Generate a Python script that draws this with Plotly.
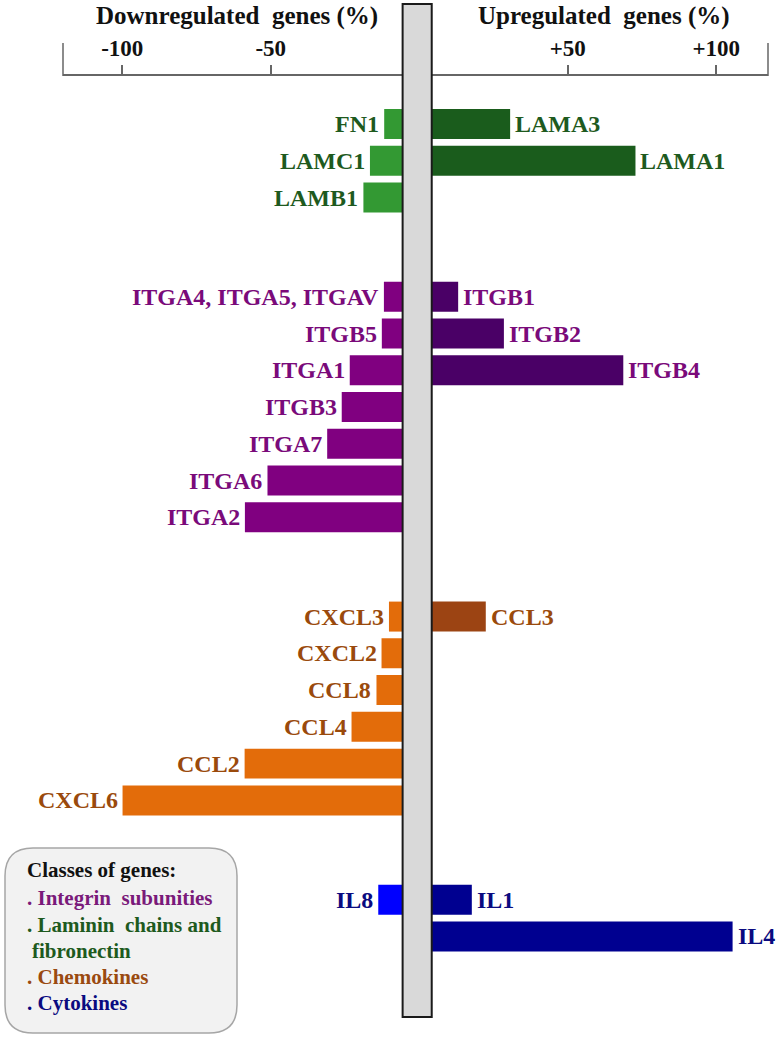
import plotly.graph_objects as go

# ---------------- data ----------------
laminin_left_genes = ["FN1", "LAMC1", "LAMB1"]
laminin_left_vals = [-11.8, -16.6, -18.8]
laminin_right_genes = ["LAMA3", "LAMA1"]
laminin_right_vals = [30.6, 72.8]

integrin_left_genes = ["ITGA4, ITGA5, ITGAV", "ITGB5", "ITGA1", "ITGB3", "ITGA7", "ITGA6", "ITGA2"]
integrin_left_vals = [-11.9, -12.6, -23.4, -26.1, -31.0, -51.1, -58.7]
integrin_right_genes = ["ITGB1", "ITGB2", "ITGB4"]
integrin_right_vals = [13.1, 28.5, 68.7]

chemokine_left_genes = ["CXCL3", "CXCL2", "CCL8", "CCL4", "CCL2", "CXCL6"]
chemokine_left_vals = [-10.2, -12.7, -14.4, -22.8, -58.8, -99.9]
chemokine_right_genes = ["CCL3"]
chemokine_right_vals = [22.4]

cytokine_left_genes = ["IL8"]
cytokine_left_vals = [-13.8]
cytokine_right_genes = ["IL1", "IL4"]
cytokine_right_vals = [17.7, 105.5]

tick_vals = [-100, -50, 50, 100]
tick_text = ["-100", "-50", "+50", "+100"]

legend_title = "Classes of genes:"
legend_items = [". Integrin  subunities", ". Laminin  chains and", "fibronectin", ". Chemokines", ". Cytokines"]

# ---------------- styles ----------------
FONT = "Liberation Serif"
groups = [
    dict(lg=laminin_left_genes, lv=laminin_left_vals, rg=laminin_right_genes, rv=laminin_right_vals,
         lc="#339933", rc="#1a5c1c", tc="#1e5a1e"),
    dict(lg=integrin_left_genes, lv=integrin_left_vals, rg=integrin_right_genes, rv=integrin_right_vals,
         lc="#800080", rc="#4a0066", tc="#7a0a7a"),
    dict(lg=chemokine_left_genes, lv=chemokine_left_vals, rg=chemokine_right_genes, rv=chemokine_right_vals,
         lc="#e36c0a", rc="#9c4413", tc="#9a4a0c"),
    dict(lg=cytokine_left_genes, lv=cytokine_left_vals, rg=cytokine_right_genes, rv=cytokine_right_vals,
         lc="#0000ff", rc="#000090", tc="#0a0a80"),
]
legend_colors = ["#7a1a7a", "#1e5a1e", "#1e5a1e", "#9a4a10", "#0a0a80"]

GROUP_STEP = 2.7
BAR_W = 0.816
W, H = 784, 1038
ML, MR, MT, MB = 63, 16, 76, 0
PW, PH = W - ML - MR, H - MT - MB
LABEL_SIZE = 24


def px2paper_x(px):
    return (px - ML) / PW


def px2paper_y(py):
    return 1 - (py - MT) / PH


fig = go.Figure()
annotations = []
start = 0.0
for g in groups:
    n = max(len(g["lg"]), len(g["rg"]))
    ly = [start + i for i in range(len(g["lg"]))]
    ry = [start + i for i in range(len(g["rg"]))]
    fig.add_trace(go.Bar(y=ly, x=g["lv"], orientation="h", width=BAR_W,
                         marker=dict(color=g["lc"], line=dict(width=0)),
                         showlegend=False, hovertext=g["lg"]))
    fig.add_trace(go.Bar(y=ry, x=g["rv"], orientation="h", width=BAR_W,
                         marker=dict(color=g["rc"], line=dict(width=0)),
                         showlegend=False, hovertext=g["rg"]))
    for name, v, y in zip(g["lg"], g["lv"], ly):
        annotations.append(dict(x=v, y=y, xref="x", yref="y", text="<b>%s</b>" % name,
                                showarrow=False, xanchor="right", yanchor="middle", xshift=-3,
                                font=dict(family=FONT, size=LABEL_SIZE, color=g["tc"])))
    for name, v, y in zip(g["rg"], g["rv"], ry):
        annotations.append(dict(x=v, y=y, xref="x", yref="y", text="<b>%s</b>" % name,
                                showarrow=False, xanchor="left", yanchor="middle", xshift=3,
                                font=dict(family=FONT, size=LABEL_SIZE, color=g["tc"])))
    start += n - 1 + GROUP_STEP

# titles
annotations.append(dict(x=px2paper_x(237), y=px2paper_y(16), xref="paper", yref="paper",
                        text="<b>Downregulated  genes (%)</b>", showarrow=False,
                        xanchor="center", yanchor="middle",
                        font=dict(family=FONT, size=25, color="#111111")))
annotations.append(dict(x=px2paper_x(604), y=px2paper_y(16), xref="paper", yref="paper",
                        text="<b>Upregulated  genes (%)</b>", showarrow=False,
                        xanchor="center", yanchor="middle",
                        font=dict(family=FONT, size=25, color="#111111")))

# legend text
annotations.append(dict(x=px2paper_x(25), y=px2paper_y(870), xref="paper", yref="paper",
                        text="<b>%s</b>" % legend_title, showarrow=False,
                        xanchor="left", yanchor="middle",
                        font=dict(family=FONT, size=21, color="#111111")))
leg_y = [898, 925, 951, 977, 1003]
leg_x = [25, 25, 30, 25, 25]
for t, c, y, x in zip(legend_items, legend_colors, leg_y, leg_x):
    annotations.append(dict(x=px2paper_x(x), y=px2paper_y(y), xref="paper", yref="paper",
                            text="<b>%s</b>" % t, showarrow=False,
                            xanchor="left", yanchor="middle",
                            font=dict(family=FONT, size=21, color=c)))

# shapes
shapes = []
# tall end ticks on axis line
for px in (ML, W - MR):
    shapes.append(dict(type="line", xref="paper", yref="paper",
                       x0=px2paper_x(px), x1=px2paper_x(px),
                       y0=px2paper_y(43), y1=px2paper_y(MT),
                       line=dict(color="#666666", width=1.5), layer="above"))
# legend rounded box
bx0, bx1 = px2paper_x(5), px2paper_x(237)
by0, by1 = px2paper_y(1033), px2paper_y(848)
rx, ry = 28 / PW, 28 / PH
path = (f"M {bx0 + rx},{by1} L {bx1 - rx},{by1} Q {bx1},{by1} {bx1},{by1 - ry} "
        f"L {bx1},{by0 + ry} Q {bx1},{by0} {bx1 - rx},{by0} "
        f"L {bx0 + rx},{by0} Q {bx0},{by0} {bx0},{by0 + ry} "
        f"L {bx0},{by1 - ry} Q {bx0},{by1} {bx0 + rx},{by1} Z")
shapes.append(dict(type="path", xref="paper", yref="paper", path=path,
                   fillcolor="#f2f2f2", line=dict(color="#a6a6a6", width=1.5), layer="below"))
# central grey band
shapes.append(dict(type="rect", xref="x", yref="paper", x0=-5.6, x1=4.2,
                   y0=px2paper_y(1017), y1=px2paper_y(4),
                   fillcolor="#d9d9d9", line=dict(color="#1a1a1a", width=2), layer="above"))

# x range so that 0 sits at pixel ~419 with ~2.97 px per unit
X0_PX, SCALE = 419.25, 2.97
x_range = [(ML - X0_PX) / SCALE, (W - MR - X0_PX) / SCALE]
ROW0_PX, PITCH = 124, 36.76
y_range = [(H - MB - ROW0_PX) / PITCH, (MT - ROW0_PX) / PITCH]

fig.update_layout(
    width=W, height=H,
    margin=dict(l=ML, r=MR, t=MT, b=MB),
    paper_bgcolor="white", plot_bgcolor="white",
    barmode="overlay",
    showlegend=False,
    annotations=annotations,
    shapes=shapes,
    xaxis=dict(range=x_range, side="top", showgrid=False, zeroline=False,
               showline=True, linecolor="#666666", linewidth=1.5,
               ticks="outside", ticklen=9, tickwidth=1.5, tickcolor="#666666",
               tickvals=tick_vals, ticktext=["<b>%s</b>" % t for t in tick_text],
               tickfont=dict(family=FONT, size=23, color="#111111"), fixedrange=True),
    yaxis=dict(range=y_range, visible=False, fixedrange=True),
)

fig.write_html(
    "out.html",
    config={"displayModeBar": False},
    post_script="document.body.style.margin='0';document.body.style.overflow='hidden';",
)
